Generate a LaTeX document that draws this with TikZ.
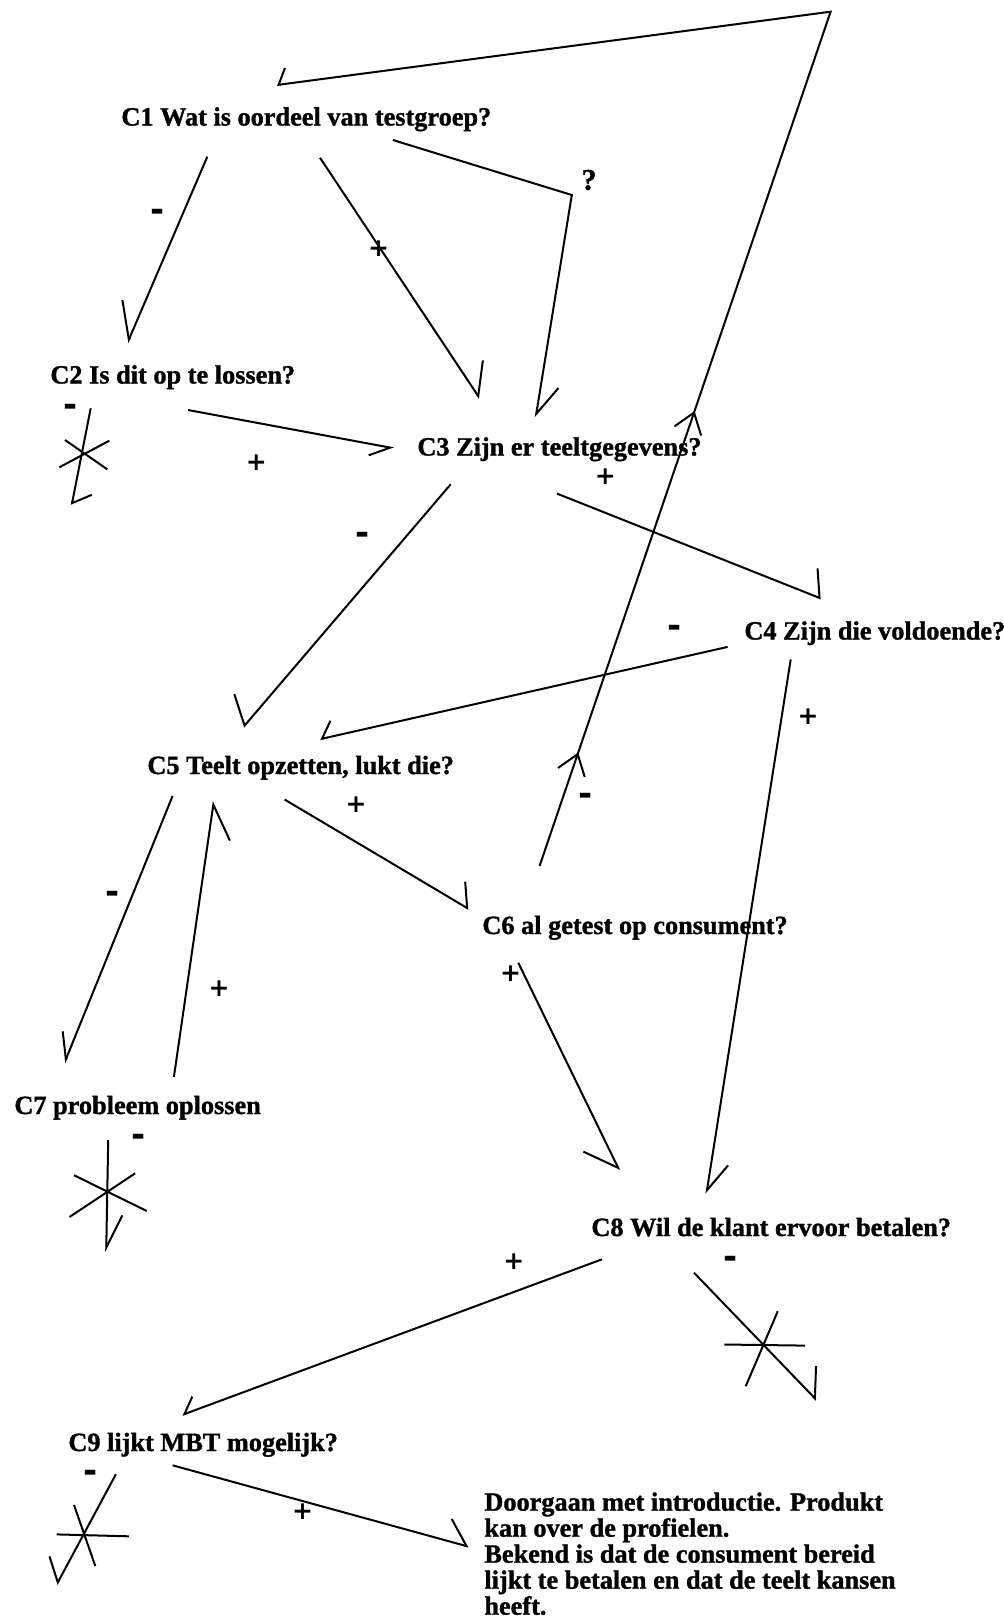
\documentclass[tikz,border=0pt]{standalone}
\usepackage{fontspec}
\setmainfont{Liberation Serif}[BoldFeatures={FakeBold=1.2}]
\newfontfamily\signfont{DejaVu Sans}
\usetikzlibrary{arrows.meta,calc,decorations.markings}

\begin{document}
\begin{tikzpicture}[x=0.5pt, y=-0.5pt,
    box/.style={anchor=base west, inner sep=0pt, font=\bfseries\fontsize{13.15pt}{13pt}\selectfont},
    signp/.style={inner sep=0pt, font=\signfont\bfseries\fontsize{12.5pt}{13pt}\selectfont},
    signm/.style={inner sep=0pt, font=\signfont\bfseries\fontsize{17pt}{13pt}\selectfont},
    wire/.style={line width=1pt},
    hl/.style={wire, -{Straight Barb[harpoon, angle=#1]}},
    hr/.style={wire, -{Straight Barb[harpoon, swap, angle=#1]}},
    midtips/.style={decoration={markings,
        mark=at position 0.082 with {\arrow{Straight Barb[angle=72:12pt]}},
        mark=at position 0.329 with {\arrow{Straight Barb[angle=72:12pt]}}},
        postaction={decorate}}]
    \useasboundingbox (0,0) rectangle (1004,1618);

    % questions
    \node[box] (C1) at (121,125.5) {C1 Wat is oordeel van testgroep?};
    \node[box] (C2) at (50,383.5) {C2 Is dit op te lossen?};
    \node[box] (C3) at (417,455.5) {C3 Zijn er teeltgegevens?};
    \node[box] (C4) at (744,639.5) {C4 Zijn die voldoende?};
    \node[box] (C5) at (147,774) {C5 Teelt opzetten, lukt die?};
    \node[box] (C6) at (482,934) {C6 al getest op consument?};
    \node[box] (C7) at (14,1114) {C7 probleem oplossen};
    \node[box] (C8) at (591,1236) {C8 Wil de klant ervoor betalen?};
    \node[box] (C9) at (68,1451) {C9 lijkt MBT mogelijk?};
    \node[box, anchor=north west, align=left] (D) at (484,1492)
        {Doorgaan met introductie. Produkt\\kan over de profielen.\\Bekend is dat de consument bereid\\lijkt te betalen en dat de teelt kansen\\heeft.};

    % links between questions
    \draw[hr=65:20pt] ($(C1.base west)+(86.3,31.2)$) -- ($(C2.base west)+(77.5,-40.8)$);
    \draw[hl=82:18pt] ($(C1.base west)+(199,32.2)$) -- ($(C3.base west)+(62.7,-57.2)$);
    \draw[hl=63:17pt] ($(C1.base west)+(271.8,14.5)$) -- ++(179,55) -- ($(C3.base west)+(118.7,-38.2)$);
    \draw[hr=60:11.5pt] ($(C2.base west)+(138,26.5)$) -- ($(C3.base west)+(-23,-7.2)$);
    \draw[hr=117:16.6pt] ($(C3.base west)+(33.7,28.8)$) -- ($(C5.base west)+(96.4,-47)$);
    \draw[hl=129:14.8pt] ($(C3.base west)+(140,38.1)$) -- ($(C4.base west)+(77,-41)$);
    \draw[hr=104:10pt] ($(C4.base west)+(-16.4,7.4)$) -- ($(C5.base west)+(173,-34.8)$);
    \draw[hl=63:16.3pt] ($(C4.base west)+(46.7,20)$) -- ($(C8.base west)+(115.4,-42.3)$);
    \draw[hr=57:14.1pt] ($(C5.base west)+(25.6,21.9)$) -- ($(C7.base west)+(50.4,-51)$);
    \draw[hr=66:19.8pt] ($(C7.base west)+(159.9,-37)$) -- ($(C5.base west)+(66.8,27.3)$);
    \draw[hl=110:13.2pt] ($(C5.base west)+(137.6,25.5)$) -- ($(C6.base west)+(-13.2,-25)$);
    \draw[hr=78:19.2pt] ($(C6.base west)+(36.3,28.8)$) -- ($(C8.base west)+(28.4,-65.6)$);
    \draw[hr=91:9.6pt] ($(C8.base west)+(11,23.3)$) -- ($(C9.base west)+(114.2,-36.1)$);
    \draw[hl=92:15.4pt] ($(C9.base west)+(104.6,14.3)$) -- ($(D.north west)+(-15.2,54.7)$);

    % back to the start
    \coordinate (top) at (830.6,11.7);
    \draw[hr=123:9pt, midtips] ($(C6.base west)+(57.6,-68.1)$) -- (top) -- ($(C1.base west)+(155.9,-40.5)$);

    % dead ends
    \coordinate (e2) at (71.7,505);
    \coordinate (x2) at (82.7,452.7);
    \draw[hl=112:10.7pt] ($(C2.base west)+(40.7,24.8)$) -- (e2);
    \draw[wire] (x2) +(-17.7,-12.7) -- +(24.6,16.6) (x2) +(-23.4,14.6) -- +(26.6,-12);

    \coordinate (e7) at (106.2,1252);
    \coordinate (x7) at (107.4,1193.5);
    \draw[hl=51:18pt] ($(C7.base west)+(94.2,26)$) -- (e7);
    \draw[wire] (x7) +(-33.4,-18.3) -- +(39.4,17.5) (x7) +(-37.9,23.5) -- +(27.8,-20.2);

    \coordinate (e8) at (816.5,1400);
    \coordinate (x8) at (763,1345);
    \draw[hl=92:16.1pt] ($(C8.base west)+(103,36.7)$) -- (e8);
    \draw[wire] (x8) +(-38.6,-0.5) -- +(41.9,0.6) (x8) +(14.8,-33.8) -- +(-17.3,41.3);

    \coordinate (e9) at (56.7,1584.5);
    \coordinate (x9) at (84.6,1535);
    \draw[hr=92:13.7pt] ($(C9.base west)+(47.9,23.2)$) -- (e9);
    \draw[wire] (x9) +(-27.9,-0.6) -- +(44.2,1.3) (x9) +(-10.6,-30) -- +(10.7,31);

    % signs
    \node[signm] (s12) at (157.8,215) {-};
    \node[signp] (s13) at (378.6,248.3) {+};
    \node[box, anchor=center, font=\bfseries\fontsize{15pt}{15pt}\selectfont] (q13) at (589,180) {?};
    \node[signp] (s23) at (256.3,462.7) {+};
    \node[signm] (s2) at (70.8,410) {-};
    \node[signm] (s35) at (362.5,538.5) {-};
    \node[signp] (s34) at (605.3,476.7) {+};
    \node[signm] (s45) at (674.8,631.5) {-};
    \node[signp] (s48) at (808,717) {+};
    \node[signm] (s57) at (112.7,897.5) {-};
    \node[signp] (s75) at (219,989) {+};
    \node[signp] (s56) at (356,804.8) {+};
    \node[signp] (s68) at (510.6,973.5) {+};
    \node[signm] (s61) at (586,799.5) {-};
    \node[signm] (s7) at (138.4,1140) {-};
    \node[signp] (s89) at (513.8,1261.5) {+};
    \node[signm] (s8) at (730.8,1262.3) {-};
    \node[signp] (s9D) at (302.6,1511.2) {+};
    \node[signm] (s9) at (90.1,1476.4) {-};
\end{tikzpicture}
\end{document}
